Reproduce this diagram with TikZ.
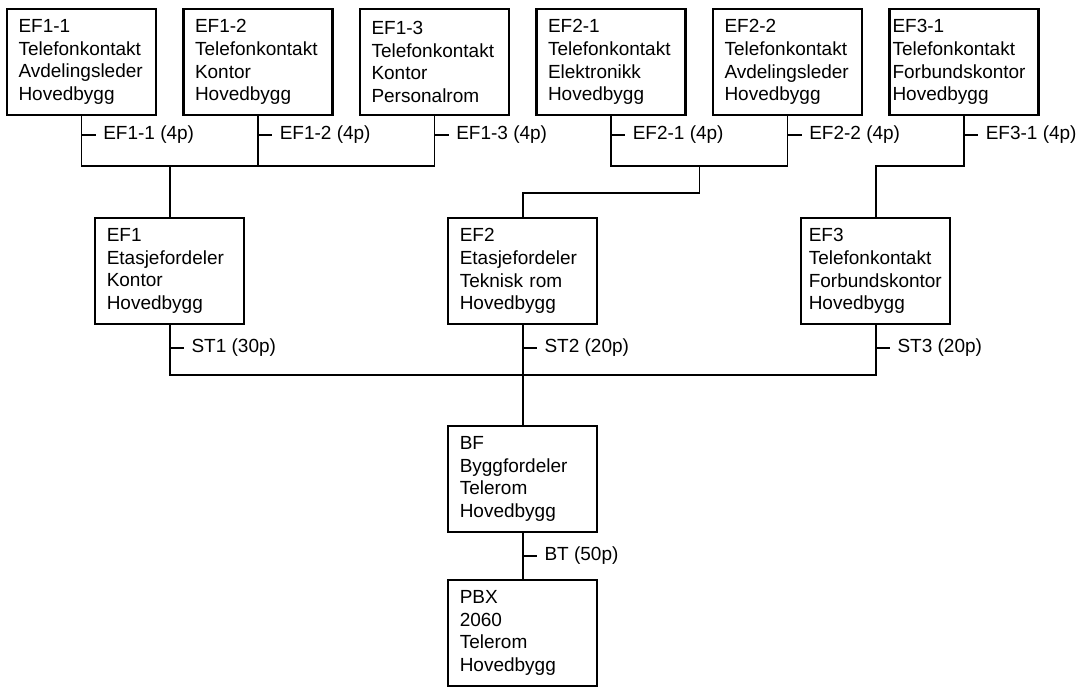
\documentclass[tikz,border=0pt]{standalone}
\usepackage{fontspec}
\setmainfont{Liberation Sans}
\usetikzlibrary{positioning, calc}

\begin{document}
\begin{tikzpicture}[
        font=\fontsize{19}{22.7}\selectfont,
        node distance=103pt and 27.5pt,
        box/.style={rectangle, draw, line width=2.2pt, outer sep=0pt, minimum width=149pt, minimum height=106pt, text width=126pt, inner xsep=11.5pt, align=left},
        wire/.style={line width=1.5pt},
        lbl/.style={anchor=west, inner sep=0pt, xshift=7pt}
    ]
        \useasboundingbox (0,0) rectangle (1078pt,-687pt);
        % outlets
        \node[box, anchor=north west] (ef11) at (7pt,-9pt) {EF1-1\\Telefonkontakt\\Avdelingsleder\\Hovedbygg};
        \node[box, right=of ef11] (ef12) {EF1-2\\Telefonkontakt\\Kontor\\Hovedbygg};
        \node[box, right=of ef12] (ef13) {EF1-3\\Telefonkontakt\\Kontor\\Personalrom};
        \node[box, right=of ef13] (ef21) {EF2-1\\Telefonkontakt\\Elektronikk\\Hovedbygg};
        \node[box, right=of ef21] (ef22) {EF2-2\\Telefonkontakt\\Avdelingsleder\\Hovedbygg};
        \node[box, right=of ef22, text width=143pt, inner xsep=3pt] (ef31) {EF3-1\\Telefonkontakt\\Forbundskontor\\Hovedbygg};
        % floor distributors
        \node[box, below=of {$(ef11.south)!0.5!(ef12.south)$}] (ef1) {EF1\\Etasjefordeler\\Kontor\\Hovedbygg};
        \node[box, below=of {$(ef13.south)!0.5!(ef21.south)$}] (ef2) {EF2\\Etasjefordeler\\Teknisk rom\\Hovedbygg};
        \node[box, below=of {$(ef22.south)!0.5!(ef31.south)$}, text width=134pt, inner xsep=7.5pt] (ef3) {EF3\\Telefonkontakt\\Forbundskontor\\Hovedbygg};
        % building distributor and exchange
        \node[box, below=102pt of ef2] (bf) {BF\\Byggfordeler\\Telerom\\Hovedbygg};
        \node[box, below=48pt of bf] (pbx) {PBX\\2060\\Telerom\\Hovedbygg};

        % EF1 cables
        \coordinate[below=51pt of ef11.south] (j1);
        \draw[wire] (ef11.south) -- (j1) -| (ef13.south);
        \draw[wire] (ef12.south) -- (ef12.south |- j1);
        \draw[wire] (ef1.north) -- (ef1.north |- j1);
        \coordinate[below=20pt of ef11.south] (t11);
        \draw[wire] (t11) -- ++(14pt,0) node[lbl] (l11) {EF1-1 (4p)};
        \coordinate[below=20pt of ef12.south] (t12);
        \draw[wire] (t12) -- ++(14pt,0) node[lbl] (l12) {EF1-2 (4p)};
        \coordinate[below=20pt of ef13.south] (t13);
        \draw[wire] (t13) -- ++(14pt,0) node[lbl] (l13) {EF1-3 (4p)};

        % EF2 cables
        \coordinate[below=51pt of ef21.south] (j2);
        \draw[wire] (ef21.south) -- (j2) -| (ef22.south);
        \coordinate (m2) at ($(j2)!0.5!(ef22.south |- j2)$);
        \draw[wire] (m2) -- ++(0,-27pt) -| (ef2.north);
        \coordinate[below=20pt of ef21.south] (t21);
        \draw[wire] (t21) -- ++(14pt,0) node[lbl] (l21) {EF2-1 (4p)};
        \coordinate[below=20pt of ef22.south] (t22);
        \draw[wire] (t22) -- ++(14pt,0) node[lbl] (l22) {EF2-2 (4p)};

        % EF3 cable
        \draw[wire] (ef31.south) -- ++(0,-51pt) -| (ef3.north);
        \coordinate[below=20pt of ef31.south] (t31);
        \draw[wire] (t31) -- ++(14pt,0) node[lbl] (l31) {EF3-1 (4p)};

        % risers
        \coordinate[below=51pt of ef1.south] (j3);
        \draw[wire] (ef1.south) -- (j3) -| (ef3.south);
        \draw[wire] (ef2.south) -- (bf.north);
        \coordinate[below=24pt of ef1.south] (s1);
        \draw[wire] (s1) -- ++(14pt,0) node[lbl] (ls1) {ST1 (30p)};
        \coordinate[below=24pt of ef2.south] (s2);
        \draw[wire] (s2) -- ++(14pt,0) node[lbl] (ls2) {ST2 (20p)};
        \coordinate[below=24pt of ef3.south] (s3);
        \draw[wire] (s3) -- ++(14pt,0) node[lbl] (ls3) {ST3 (20p)};

        % trunk to exchange
        \draw[wire] (bf.south) -- (pbx.north);
        \coordinate[below=24pt of bf.south] (b1);
        \draw[wire] (b1) -- ++(14pt,0) node[lbl] (lb1) {BT (50p)};
    \end{tikzpicture}
\end{document}
